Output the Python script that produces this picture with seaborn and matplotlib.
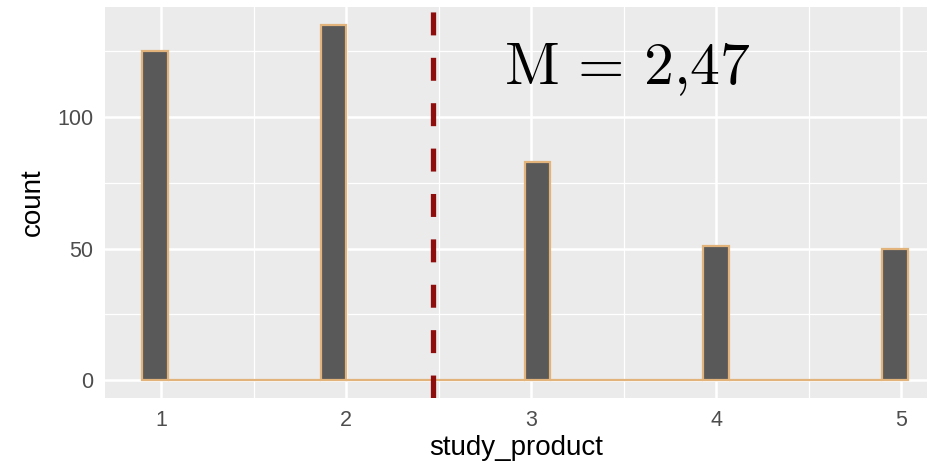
import numpy as np
import pandas as pd
import matplotlib
matplotlib.use('Agg')
import matplotlib.pyplot as plt
import seaborn as sns

# study_product answers and their counts
study_product = [1, 2, 3, 4, 5]
counts = [125, 135, 83, 51, 50]
mean_label = r'$\mathrm{M}\,=\,\mathrm{2{,}47}$'
mean_value = 2.47

sns.set_style('darkgrid', {'axes.facecolor': '#EBEBEB', 'grid.color': 'white'})
plt.rcParams['font.family'] = ['Liberation Sans', 'DejaVu Sans']
plt.rcParams['mathtext.fontset'] = 'cm'

df = pd.DataFrame({'study_product': study_product, 'count': counts})

fig = plt.figure(figsize=(9.27, 4.69), dpi=100)
ax = fig.add_axes([105 / 927, 71 / 469, 822 / 927, 391 / 469])

# ggplot-like 30 bins across the data range
width = 4 / 29
edges = list(0.897 + width * np.arange(31))
sns.histplot(data=df, x='study_product', weights='count', bins=edges, ax=ax,
             color='#595959', edgecolor='#E3B37C', linewidth=1.6, alpha=1)

ax.axvline(mean_value, color='#8E0E0E', linestyle=(0, (4.35, 4.25)), linewidth=3.8)
ax.text(3.52, 118, mean_label, fontsize=43, ha='center', va='center', color='black')

ax.set_xlim(0.697, 5.14)
ax.set_ylim(-6.75, 141.75)
ax.set_xticks([1, 2, 3, 4, 5])
ax.set_yticks([0, 50, 100])
ax.set_xticks([1.5, 2.5, 3.5, 4.5], minor=True)
ax.set_yticks([25, 75, 125], minor=True)
ax.grid(which='major', color='white', linewidth=1.8)
ax.grid(which='minor', color='white', linewidth=0.9)
ax.set_axisbelow(True)
for s in ax.spines.values():
    s.set_visible(False)
ax.tick_params(which='major', length=5.5, width=1.2, color='#333333',
               labelcolor='#4D4D4D', labelsize=15.5, pad=3)
ax.tick_params(which='minor', length=0)
ax.set_xlabel('study_product', fontsize=20, color='black', labelpad=3)
ax.set_ylabel('count', fontsize=20, color='black', labelpad=8)

fig.savefig('out.png', dpi=100)
